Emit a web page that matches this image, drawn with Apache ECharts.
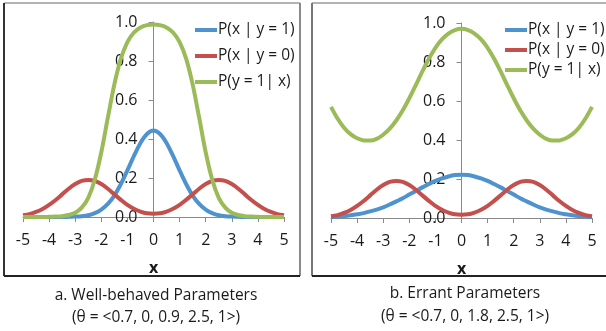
<!DOCTYPE html>
<html><head><meta charset="utf-8">
<script src="https://cdn.jsdelivr.net/npm/echarts@6/dist/echarts.min.js"></script>
<style>html,body{margin:0;padding:0;background:#fff}#c{width:606px;height:331px}</style>
</head><body><div id="c"></div>
<script>
var xs = [-5,-4.75,-4.5,-4.25,-4,-3.75,-3.5,-3.25,-3,-2.75,-2.5,-2.25,-2,-1.75,-1.5,-1.25,-1,-0.75,-0.5,-0.25,0,0.25,0.5,0.75,1,1.25,1.5,1.75,2,2.25,2.5,2.75,3,3.25,3.5,3.75,4,4.25,4.5,4.75,5];
var seriesNames = ['P(x | y = 1)','P(x | y = 0)','P(y = 1| x)'];
var xTicks = [-5,-4,-3,-2,-1,0,1,2,3,4,5];
var yTicks = [0,0.2,0.4,0.6,0.8,1.0];
// Panel a: well-behaved parameters
var aPxY1 = [0,0,0,0,0,0,0,0.001,0.002,0.004,0.009,0.020,0.038,0.067,0.110,0.169,0.239,0.313,0.380,0.426,0.443,0.426,0.380,0.313,0.239,0.169,0.110,0.067,0.038,0.020,0.009,0.004,0.002,0.001,0,0,0,0,0,0,0];
var aPxY0 = [0.009,0.015,0.026,0.041,0.062,0.087,0.116,0.145,0.169,0.185,0.190,0.185,0.169,0.145,0.116,0.088,0.062,0.042,0.028,0.019,0.017,0.019,0.028,0.042,0.062,0.088,0.116,0.145,0.169,0.185,0.190,0.185,0.169,0.145,0.116,0.087,0.062,0.041,0.026,0.015,0.009];
var aPy1X = [0,0,0,0,0.001,0.002,0.004,0.010,0.022,0.048,0.098,0.191,0.332,0.509,0.680,0.812,0.897,0.946,0.972,0.984,0.987,0.984,0.972,0.946,0.897,0.812,0.680,0.509,0.332,0.191,0.098,0.048,0.022,0.010,0.004,0.002,0.001,0,0,0,0];
// Panel b: errant parameters
var bPxY1 = [0.005,0.007,0.010,0.014,0.019,0.025,0.034,0.043,0.055,0.069,0.085,0.101,0.120,0.138,0.157,0.174,0.190,0.203,0.213,0.220,0.222,0.220,0.213,0.203,0.190,0.174,0.157,0.138,0.120,0.101,0.085,0.069,0.055,0.043,0.034,0.025,0.019,0.014,0.010,0.007,0.005];
var bPxY0 = [0.009,0.015,0.026,0.041,0.062,0.087,0.116,0.145,0.169,0.185,0.190,0.185,0.169,0.145,0.116,0.088,0.062,0.042,0.028,0.019,0.017,0.019,0.028,0.042,0.062,0.088,0.116,0.145,0.169,0.185,0.190,0.185,0.169,0.145,0.116,0.087,0.062,0.041,0.026,0.015,0.009];
var bPy1X = [0.570,0.510,0.463,0.430,0.409,0.398,0.397,0.406,0.427,0.458,0.500,0.552,0.614,0.682,0.752,0.817,0.873,0.916,0.946,0.964,0.970,0.964,0.946,0.916,0.873,0.817,0.752,0.682,0.614,0.552,0.500,0.458,0.427,0.406,0.397,0.398,0.409,0.430,0.463,0.510,0.570];
var captionA = ['a. Well-behaved Parameters','(θ = <0.7, 0, 0.9, 2.5, 1>)'];
var captionB = ['b. Errant Parameters','(θ = <0.7, 0, 1.8, 2.5, 1>)'];

var colors = ['#4F93CE','#C4504D','#9BBB59'];
var FONT = 'Open Sans';
var TXT = '#1a1a1a';
var AX = '#8a8a8a';

function pairs(v){ return xs.map(function(x,i){ return [x, v[i]]; }); }
function xAxisDef(gi){
  return {type:'value', gridIndex:gi, min:xTicks[0], max:xTicks[xTicks.length-1], interval:1,
    name:'x', nameLocation:'middle', nameGap:43,
    nameTextStyle:{fontFamily:FONT, fontWeight:'bold', fontSize:16, color:TXT},
    axisLine:{show:true, onZero:false, lineStyle:{color:AX, width:1}},
    axisTick:{show:true, length:5, lineStyle:{color:AX}},
    axisLabel:{fontFamily:FONT, fontSize:16, color:TXT, margin:15},
    splitLine:{show:false}};
}
function yAxisDef(gi){
  return {type:'value', gridIndex:gi, position:'left', offset:-130.5,
    min:yTicks[0], max:yTicks[yTicks.length-1], interval:0.2,
    axisLine:{show:true, onZero:false, lineStyle:{color:AX, width:1}},
    axisTick:{show:true, length:5, lineStyle:{color:AX}},
    axisLabel:{fontFamily:FONT, fontSize:16, color:TXT, margin:16, formatter:function(v){return v.toFixed(1);}},
    splitLine:{show:false}};
}
function ser(name, vals, gi, ci){
  return {type:'line', name:name, xAxisIndex:gi, yAxisIndex:gi, data:pairs(vals),
    smooth:0.3, showSymbol:false, symbol:'none', lineStyle:{width:4, color:colors[ci]},
    itemStyle:{color:colors[ci]}, z:3};
}
function legendDef(left, top, gap){
  return {orient:'vertical', left:left, top:top, itemGap:gap, icon:'rect', itemWidth:22, itemHeight:4,
    textStyle:{fontFamily:FONT, fontSize:15.5, color:TXT, padding:[0,0,0,-4]}, data:seriesNames, padding:0};
}
function line(x1,y1,x2,y2,c,w){ return {type:'line', shape:{x1:x1,y1:y1,x2:x2,y2:y2}, style:{stroke:c, lineWidth:w}, silent:true}; }
function cap(x,y,t){ return {type:'text', x:x, y:y, style:{text:t, fill:TXT, font:'15.5px '+FONT, textAlign:'center', textVerticalAlign:'middle'}}; }

var chart = echarts.init(document.getElementById('c'), null, {renderer:'canvas'});
chart.setOption({
  animation:false,
  backgroundColor:'#fff',
  grid:[{left:23, top:22, width:261, height:195},{left:331, top:23, width:261, height:195}],
  xAxis:[xAxisDef(0), xAxisDef(1)],
  yAxis:[yAxisDef(0), yAxisDef(1)],
  legend:[legendDef(195, 22, 10), legendDef(505, 22, 4)],
  series:[
    ser(seriesNames[0], aPxY1, 0, 0), ser(seriesNames[1], aPxY0, 0, 1), ser(seriesNames[2], aPy1X, 0, 2),
    ser(seriesNames[0], bPxY1, 1, 0), ser(seriesNames[1], bPxY0, 1, 1), ser(seriesNames[2], bPy1X, 1, 2)
  ],
  graphic:[
    line(4,3,300,3,'#9a9a9a',1.5), line(300,3,300,276,'#8a8a8a',2), line(4,3,4,276,'#333',2), line(4,276,300,276,'#222',2),
    line(312,3,606,3,'#9a9a9a',1.5), line(312,3,312,276,'#777',2), line(312,276,606,276,'#222',2),
    cap(156,296,captionA[0]), cap(156,318,captionA[1]),
    cap(465,294,captionB[0]), cap(465,317,captionB[1])
  ]
});
</script></body></html>
